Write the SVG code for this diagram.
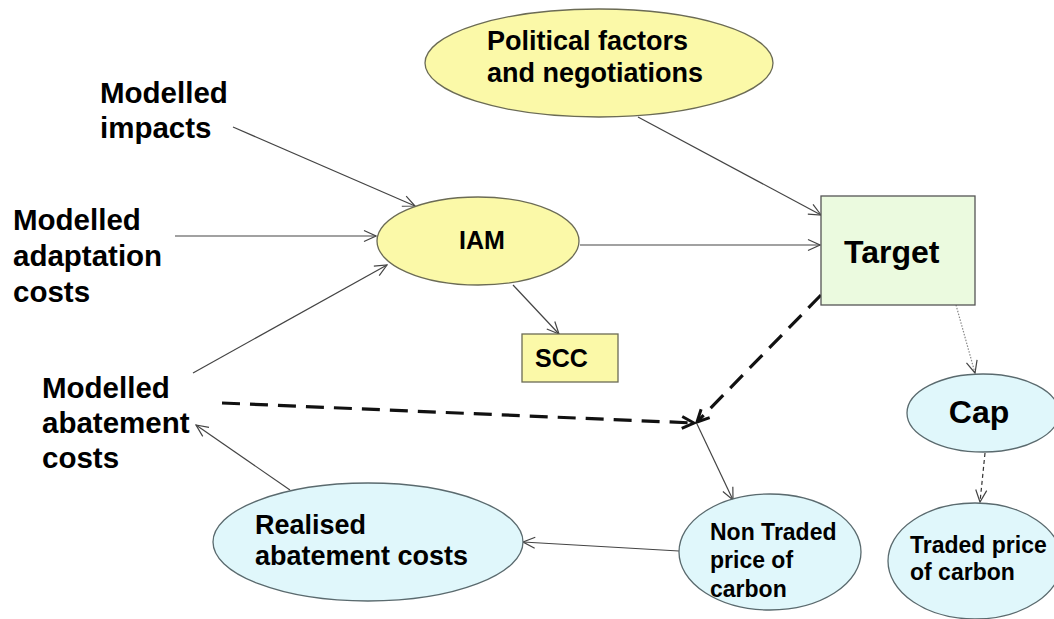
<svg xmlns="http://www.w3.org/2000/svg" width="1054" height="619" viewBox="0 0 1054 619">
  <defs>
    <style>
      text { font-family: "Liberation Sans", Arial, sans-serif; font-weight: bold; fill: #000; }
      .yellow { fill: #fbf9a8; stroke: #6b6b55; stroke-width: 1.3; }
      .cyan { fill: #e0f7fb; stroke: #5a6a6e; stroke-width: 1.3; }
      .green { fill: #ebfadf; stroke: #555; stroke-width: 1.3; }
      .thin { stroke: #444; stroke-width: 1.2; fill: none; marker-end: url(#open); }
      .dotted { stroke: #888; stroke-width: 1.2; stroke-dasharray: 1.5 1.5; fill: none; marker-end: url(#open); }
      .dashed { stroke: #333; stroke-width: 1.2; stroke-dasharray: 4 3; fill: none; marker-end: url(#open); }
      .bold { stroke: #111; stroke-width: 3.2; stroke-dasharray: 18 10; fill: none; marker-end: url(#openBold); }
    </style>
    <marker id="open" viewBox="0 0 14 14" refX="13" refY="7" markerWidth="14" markerHeight="14" markerUnits="userSpaceOnUse" orient="auto">
      <path d="M1,1.5 L13,7 L1,12.5" fill="none" stroke="#444" stroke-width="1.2"/>
    </marker>
    <marker id="openBold" viewBox="0 0 16 16" refX="14" refY="8" markerWidth="16" markerHeight="16" markerUnits="userSpaceOnUse" orient="auto">
      <path d="M2,2 L14,8 L2,14" fill="none" stroke="#111" stroke-width="3"/>
    </marker>
  </defs>

  <rect width="1054" height="619" fill="#fff"/>

  <!-- connectors -->
  <g id="connectors">
    <line class="thin" x1="233" y1="127" x2="415" y2="206"/>
    <line class="thin" x1="175" y1="236" x2="376" y2="236"/>
    <line class="thin" x1="193" y1="373" x2="387" y2="265"/>
    <line class="thin" x1="638" y1="117" x2="821" y2="215"/>
    <line class="thin" x1="580" y1="245" x2="820" y2="245"/>
    <line class="thin" x1="513" y1="285" x2="559" y2="334"/>
    <line class="dotted" x1="956" y1="305" x2="975" y2="373"/>
    <line class="dashed" x1="985" y1="453" x2="980" y2="502"/>
    <line class="bold" x1="821" y1="295" x2="697" y2="422"/>
    <line class="bold" x1="222" y1="403" x2="694" y2="423"/>
    <line class="thin" x1="697" y1="424" x2="733" y2="500"/>
    <line class="thin" x1="679" y1="551" x2="523" y2="542"/>
    <line class="thin" x1="290" y1="490" x2="196" y2="425"/>
  </g>

  <!-- nodes -->
  <g id="political">
    <ellipse class="yellow" cx="599" cy="63" rx="174" ry="54"/>
    <text x="487" y="50" font-size="27">Political factors</text>
    <text x="487" y="82" font-size="27">and negotiations</text>
  </g>

  <g id="modelled-impacts">
    <text x="100" y="103" font-size="29.5">Modelled</text>
    <text x="100" y="138" font-size="29.5">impacts</text>
  </g>

  <g id="modelled-adaptation">
    <text x="13" y="230" font-size="29.5">Modelled</text>
    <text x="13" y="266" font-size="29.5">adaptation</text>
    <text x="13" y="302" font-size="29.5">costs</text>
  </g>

  <g id="modelled-abatement">
    <text x="42" y="398" font-size="29.5">Modelled</text>
    <text x="42" y="433" font-size="29.5">abatement</text>
    <text x="42" y="468" font-size="29.5">costs</text>
  </g>

  <g id="iam">
    <ellipse class="yellow" cx="478" cy="241" rx="101" ry="44"/>
    <text x="482" y="249" font-size="25" text-anchor="middle">IAM</text>
  </g>

  <g id="scc">
    <rect class="yellow" x="522" y="334" width="96" height="48"/>
    <text x="535" y="367" font-size="25">SCC</text>
  </g>

  <g id="target">
    <rect class="green" x="821" y="196" width="154" height="109"/>
    <text x="844" y="263" font-size="32">Target</text>
  </g>

  <g id="cap">
    <ellipse class="cyan" cx="983" cy="413" rx="76" ry="39"/>
    <text x="979" y="423" font-size="32" text-anchor="middle">Cap</text>
  </g>

  <g id="traded">
    <ellipse class="cyan" cx="975" cy="561" rx="87" ry="58"/>
    <text x="910" y="553" font-size="23">Traded price</text>
    <text x="910" y="580" font-size="23">of carbon</text>
  </g>

  <g id="non-traded">
    <ellipse class="cyan" cx="770" cy="552" rx="91" ry="58"/>
    <text x="710" y="540" font-size="23">Non Traded</text>
    <text x="710" y="568" font-size="23">price of</text>
    <text x="710" y="597" font-size="23">carbon</text>
  </g>

  <g id="realised">
    <ellipse class="cyan" cx="368" cy="542" rx="155" ry="59"/>
    <text x="255" y="534" font-size="27">Realised</text>
    <text x="255" y="565" font-size="27">abatement costs</text>
  </g>
</svg>
